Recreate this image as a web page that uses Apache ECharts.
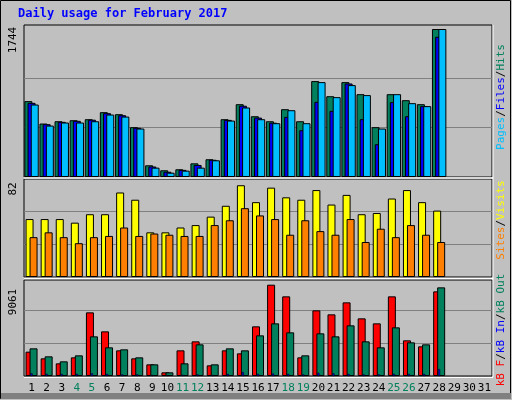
<!DOCTYPE html>
<html><head><meta charset="utf-8">
<script src="https://cdn.jsdelivr.net/npm/echarts@6/dist/echarts.min.js"></script>
<style>html,body{margin:0;padding:0;background:#c0c0c0}#c{width:512px;height:400px}</style>
</head><body><div id="c"></div>
<script>
const days = Array.from({length:31},(_,i)=>String(i+1));
const weekend = ['4','5','11','12','18','19','25','26'];
const hits  = [894,630,657,669,681,764,740,587,138,79,91,161,209,681,858,716,657,799,657,1130,952,1118,976,587,976,905,858,1744];
const files = [874,622,650,662,675,752,728,580,124,62,84,142,203,673,840,700,640,709,551,886,780,1102,681,386,882,716,835,1653];
const pages = [854,606,642,642,657,736,712,571,110,51,75,110,197,665,819,681,634,787,634,1118,941,1083,965,571,976,870,835,1744];
const visits = [48,48,48,45,52,52,70,64,37,37,41,43,50,59,76,62,74,66,64,72,60,68,52,53,65,72,62,55];
const sites  = [33,37,33,28,33,34,41,34,36,35,34,34,43,47,57,51,48,35,47,38,35,48,29,40,33,43,35,29];
const kbF   = [2227,1617,1159,1708,5826,4087,2349,1617,1068,336,2349,3172,976,2349,2074,4545,8357,7290,1708,6009,5643,6741,5277,4819,7290,3264,2715,7747];
const kbIn  = [250,200,200,200,250,200,150,150,100,80,120,150,100,200,366,200,220,200,150,300,250,200,150,150,200,200,200,640];
const kbOut = [2532,1800,1342,1891,3630,2623,2440,1708,1068,336,1159,2898,1068,2532,2349,3721,4819,3996,1891,3904,3630,4636,3172,2623,4453,3081,2898,8113];
const maxLabels = ['1744','82','9061'];
const maxVals = [1744,82,9061];

const F = 'DejaVu Sans Mono, monospace';
const grids = [
  {left:24,right:20,top:25,height:152},
  {left:24,right:20,top:179,height:98},
  {left:24,right:20,top:280,height:96}
];
const tops = [1744*152/148, 82*98/99, 9061*96/99];
function yAx(i){
  return {gridIndex:i,type:'value',min:0,max:tops[i],interval:maxVals[i]/3,
    axisLabel:{show:false},axisTick:{show:false},axisLine:{show:false},
    splitLine:{lineStyle:{color:['transparent','#808080','#808080','transparent','transparent'],width:1}}};
}
function xAx(i,show){
  return {gridIndex:i,type:'category',data:days,axisTick:{show:false},axisLine:{show:false},
    axisLabel:{show:show,interval:0,fontFamily:F,fontSize:11,margin:7,
      color:(v)=>weekend.includes(v)?'#00805c':'#000000'}};
}
const bs = {borderColor:'#000',borderWidth:1};
function bar(name,data,xi,yi,color,w,gap,z){
  return {name,type:'bar',data,xAxisIndex:xi,yAxisIndex:yi,barWidth:w,barGap:gap,z:z||2,
    itemStyle:Object.assign({color},bs),animation:false};
}
const series = [
  bar('Hits',hits,0,0,'#00805c',8,'-60%'),
  bar('Files',files,0,0,'#0000ff',8,'-60%'),
  bar('Pages',pages,0,0,'#00bfff',8,'-60%'),
  bar('Visits',visits,1,1,'#ffff00',8,'-50%'),
  bar('Sites',sites,1,1,'#ff8000',8,'-50%'),
  bar('KB F',kbF,2,2,'#ff0000',8,'-50%'),
  bar('KB Out',kbOut,2,2,'#00805c',8,'-50%'),
  {name:'KB In',type:'bar',data:kbIn,xAxisIndex:3,yAxisIndex:2,barWidth:2,z:5,
    itemStyle:{color:'#0000ff',borderColor:'#000',borderWidth:0.5},animation:false}
];
const chart = echarts.init(document.getElementById('c'));
const rot = Math.PI/2;
chart.setOption({
  backgroundColor:'#c0c0c0',
  grid: grids.map(g=>Object.assign({show:true,backgroundColor:'#c0c0c0',borderColor:'#000',borderWidth:1},g)),
  xAxis:[xAx(0,false),xAx(1,false),xAx(2,true),Object.assign(xAx(2,false),{position:'bottom'})],
  yAxis:[yAx(0),yAx(1),yAx(2)],
  series,
  graphic:[
    {type:'rect',shape:{x:0.5,y:0.5,width:510,height:398},style:{fill:'none',stroke:'#000',lineWidth:1},z:-1},
    {type:'rect',shape:{x:1,y:393,width:510,height:6},style:{fill:'#808080'},z:-1},
    {type:'line',shape:{x1:24,y1:178,x2:493,y2:178},style:{stroke:'#fff',lineWidth:1.5},z:10},
    {type:'line',shape:{x1:24,y1:278.5,x2:493,y2:278.5},style:{stroke:'#fff',lineWidth:1.5},z:10},
    {type:'line',shape:{x1:24,y1:377.5,x2:493,y2:377.5},style:{stroke:'#fff',lineWidth:1},z:10},
    {type:'line',shape:{x1:493,y1:25,x2:493,y2:377},style:{stroke:'#fff',lineWidth:1},z:10},
    {type:'text',left:18,top:8,style:{text:'Daily usage for February 2017',font:'bold 12px '+F,fill:'#0000ff'}},
    {type:'text',x:13,y:40,rotation:rot,style:{text:maxLabels[0],font:'11px '+F,fill:'#000',align:'center',verticalAlign:'middle'}},
    {type:'text',x:13,y:189,rotation:rot,style:{text:maxLabels[1],font:'11px '+F,fill:'#000',align:'center',verticalAlign:'middle'}},
    {type:'text',x:13,y:302,rotation:rot,style:{text:maxLabels[2],font:'11px '+F,fill:'#000',align:'center',verticalAlign:'middle'}},
    {type:'text',x:501,y:97,rotation:rot,style:{text:'{a|Pages}{b|/}{c|Files}{b|/}{d|Hits}',align:'center',verticalAlign:'middle',
      rich:{a:{fill:'#00bfff',font:'11px '+F},b:{fill:'#000',font:'11px '+F},c:{fill:'#0000ff',font:'11px '+F},d:{fill:'#00805c',font:'11px '+F}}}},
    {type:'text',x:501,y:220,rotation:rot,style:{text:'{a|Sites}{b|/}{c|Visits}',align:'center',verticalAlign:'middle',
      rich:{a:{fill:'#ff8000',font:'11px '+F},b:{fill:'#000',font:'11px '+F},c:{fill:'#ffff00',font:'11px '+F}}}},
    {type:'text',x:501,y:330,rotation:rot,style:{text:'{a|kB F}{b|/}{c|kB In}{b|/}{d|kB Out}',align:'center',verticalAlign:'middle',
      rich:{a:{fill:'#ff0000',font:'11px '+F},b:{fill:'#000',font:'11px '+F},c:{fill:'#0000ff',font:'11px '+F},d:{fill:'#00805c',font:'11px '+F}}}}
  ]
});
</script></body></html>
